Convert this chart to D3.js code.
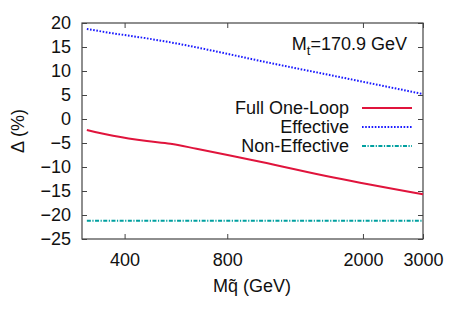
<!DOCTYPE html>
<html>
<head>
<meta charset="utf-8">
<script src="https://cdn.jsdelivr.net/npm/d3@7"></script>
<style>
  body { margin: 0; background: #fff; }
  text { font-family: "Liberation Sans", Arial, sans-serif; fill: #111; }
</style>
</head>
<body>
<div id="chart"></div>
<script>
// values
const massFull = [310, 370, 465, 545, 650, 815, 1000, 1640, 3000];
const fullOneLoop = [-2.3, -3.5, -4.6, -5.15, -6.2, -7.6, -8.9, -12.2, -15.7];

const massEff = [310, 370, 465, 582, 728, 1000, 1640, 3000];
const effective = [18.75, 17.85, 16.8, 15.6, 14.2, 12.1, 9.0, 5.2];

const massNon = [310, 3000];
const nonEffective = [-21.2, -21.2];

const xTicks = [400, 800, 2000, 3000];
const yTicks = [-25, -20, -15, -10, -5, 0, 5, 10, 15, 20];

const legendNames = ["Full One-Loop", "Effective", "Non-Effective"];

const W = 457, H = 320;
const margin = {top: 23, right: 34, bottom: 81, left: 82};
const width = W - margin.left - margin.right,
      height = H - margin.top - margin.bottom;
const fs = "18px";

const svg = d3.select("#chart").append("svg")
    .attr("width", W).attr("height", H);

const g = svg.append("g").attr("transform", `translate(${margin.left},${margin.top})`);

const x = d3.scaleLog().domain([300, 3000]).range([0, width]);
const y = d3.scaleLinear().domain([-25, 20]).range([height, 0]);

// axes: ticks drawn inward on all four sides like gnuplot
const axColor = "#444";
function styleAxis(sel) {
  sel.select(".domain").remove();
  sel.selectAll("line").attr("stroke", axColor);
  sel.selectAll("text").style("font-size", fs).attr("fill", "#111");
}

g.append("g").attr("transform", `translate(0,${height})`)
  .call(d3.axisBottom(x).tickValues(xTicks).tickFormat(d3.format("d")).tickSizeInner(-5).tickPadding(14))
  .call(styleAxis);
g.append("g")
  .call(d3.axisTop(x).tickValues(xTicks).tickFormat("").tickSizeInner(-5))
  .call(styleAxis);
g.append("g")
  .call(d3.axisLeft(y).tickValues(yTicks).tickFormat(d3.format("d")).tickSizeInner(-5).tickPadding(11))
  .call(styleAxis);
g.append("g").attr("transform", `translate(${width},0)`)
  .call(d3.axisRight(y).tickValues(yTicks).tickFormat("").tickSizeInner(-5))
  .call(styleAxis);

g.append("rect").attr("width", width).attr("height", height)
  .attr("fill", "none").attr("stroke", axColor).attr("stroke-width", 1.2);

const line = d3.line().x(d => x(d[0])).y(d => y(d[1])).curve(d3.curveMonotoneX);

const series = [
  {m: massFull, v: fullOneLoop, color: "#e0143c", dash: null, w: 2},
  {m: massEff, v: effective, color: "#1a1aff", dash: "1.6,1.6", w: 2},
  {m: massNon, v: nonEffective, color: "#00a0a0", dash: "4,1.5,1.2,1.5", w: 2}
];

series.forEach(s => {
  g.append("path")
    .datum(d3.zip(s.m, s.v))
    .attr("d", line)
    .attr("fill", "none")
    .attr("stroke", s.color)
    .attr("stroke-width", s.w)
    .attr("stroke-dasharray", s.dash);
});

// legend
const leg = g.append("g");
legendNames.forEach((name, i) => {
  const yy = 85 + i * 19;
  leg.append("text").attr("x", 267).attr("y", yy).attr("dy", "0.35em")
    .attr("text-anchor", "end").style("font-size", fs).text(name);
  leg.append("line").attr("x1", 280).attr("x2", 330).attr("y1", yy).attr("y2", yy)
    .attr("stroke", series[i].color).attr("stroke-width", series[i].w)
    .attr("stroke-dasharray", series[i].dash);
});

// annotation
const ann = g.append("text").attr("x", 325).attr("y", 26.5)
  .attr("text-anchor", "end").style("font-size", fs);
ann.append("tspan").text("M");
ann.append("tspan").attr("dy", 5).style("font-size", "13px").text("t");
ann.append("tspan").attr("dy", -5).text("=170.9 GeV");

// axis titles
svg.append("text").attr("x", 252).attr("y", 292)
  .attr("text-anchor", "middle").style("font-size", fs).text("Mq\u0303 (GeV)");
svg.append("text").attr("transform", "translate(24,131) rotate(-90)")
  .attr("text-anchor", "middle").style("font-size", fs).text("\u0394 (%)");
</script>
</body>
</html>
